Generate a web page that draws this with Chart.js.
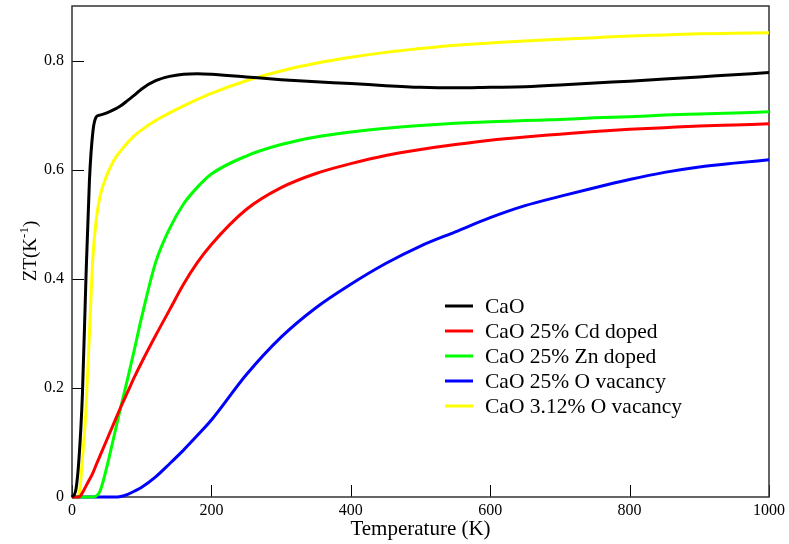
<!DOCTYPE html>
<html>
<head>
<meta charset="utf-8">
<script src="https://cdn.jsdelivr.net/npm/chart.js@4.4.1/dist/chart.umd.min.js"></script>
<style>
  html, body { margin: 0; padding: 0; background: #fff; }
  canvas { display: block; }
</style>
</head>
<body>
<canvas id="zt" width="789" height="544"></canvas>
<script>
const temps = [0, 5, 10, 15, 20, 25, 30, 35, 40, 50, 60, 70, 80, 90, 100, 120, 140, 160, 180, 200,
  250, 300, 350, 400, 450, 500, 550, 600, 650, 700, 750, 800, 850, 900, 950, 1000];

const cao = [0, 0.01, 0.07, 0.19, 0.40, 0.58, 0.67, 0.697, 0.700, 0.704, 0.710, 0.717, 0.727, 0.737, 0.748,
  0.763, 0.771, 0.775, 0.776, 0.775, 0.770, 0.765, 0.761, 0.758, 0.754, 0.751, 0.750, 0.751, 0.752, 0.755,
  0.759, 0.762, 0.766, 0.770, 0.774, 0.778];
const cdDoped = [0, 0, 0, 0.008, 0.02, 0.032, 0.044, 0.06, 0.075, 0.105, 0.135, 0.165, 0.193, 0.221, 0.247,
  0.296, 0.343, 0.39, 0.43, 0.463, 0.527, 0.567, 0.593, 0.611, 0.626, 0.637, 0.646, 0.654, 0.660, 0.665,
  0.670, 0.674, 0.677, 0.680, 0.682, 0.684];
const znDoped = [0, 0, 0, 0, 0, 0, 0, 0.002, 0.01, 0.055, 0.11, 0.165, 0.218, 0.273, 0.33,
  0.43, 0.492, 0.537, 0.568, 0.592, 0.625, 0.646, 0.660, 0.669, 0.676, 0.681, 0.685, 0.688, 0.690, 0.692,
  0.695, 0.697, 0.700, 0.702, 0.704, 0.706];
const oVac25 = [0, 0, 0, 0, 0, 0, 0, 0, 0, 0, 0, 0.001, 0.005, 0.011, 0.018,
  0.037, 0.061, 0.086, 0.113, 0.141, 0.224, 0.293, 0.347, 0.39, 0.428, 0.46, 0.486, 0.512, 0.534, 0.551,
  0.567, 0.582, 0.595, 0.605, 0.612, 0.618];
const oVac312 = [0, 0, 0.005, 0.07, 0.16, 0.30, 0.44, 0.51, 0.55, 0.59, 0.617, 0.635, 0.65, 0.663, 0.673,
  0.690, 0.704, 0.717, 0.729, 0.740, 0.763, 0.781, 0.795, 0.806, 0.815, 0.822, 0.828, 0.832, 0.836, 0.839,
  0.842, 0.845, 0.847, 0.849, 0.850, 0.851];

const labels = ['CaO', 'CaO 25% Cd doped', 'CaO 25% Zn doped', 'CaO 25% O vacancy', 'CaO 3.12% O vacancy'];
const colors = ['#000000', '#ff0000', '#00ff00', '#0000ff', '#ffff00'];
const series = [cao, cdDoped, znDoped, oVac25, oVac312];

const xTicks = [0, 200, 400, 600, 800, 1000];
const yTicks = [0, 0.2, 0.4, 0.6, 0.8];

const serif = '"Liberation Serif", "Times New Roman", serif';

// frame + inward tick marks, drawn under the curves
const frame = {
  id: 'frame',
  beforeDatasetsDraw(chart) {
    const { ctx, chartArea: a, scales: { x, y } } = chart;
    ctx.save();
    ctx.strokeStyle = '#000';
    ctx.lineWidth = 1;
    ctx.beginPath();
    xTicks.forEach(v => {
      const px = Math.round(x.getPixelForValue(v)) + 0.5;
      ctx.moveTo(px, a.bottom);
      ctx.lineTo(px, a.bottom - 12);
    });
    yTicks.forEach(v => {
      const py = Math.round(y.getPixelForValue(v)) + 0.5;
      ctx.moveTo(a.left, py);
      ctx.lineTo(a.left + 12, py);
    });
    ctx.stroke();
    ctx.strokeStyle = '#333';
    ctx.lineWidth = 1.5;
    ctx.strokeRect(a.left, a.top, a.right - a.left, a.bottom - a.top);
    ctx.restore();
  },
  afterDraw(chart) {
    const { ctx, chartArea: a } = chart;
    ctx.save();
    ctx.fillStyle = '#000';

    // x title
    ctx.font = '21px ' + serif;
    ctx.textAlign = 'center';
    ctx.textBaseline = 'alphabetic';
    ctx.fillText('Temperature (K)', (a.left + a.right) / 2, 535);

    // y title with superscript
    ctx.translate(29, 251);
    ctx.rotate(-Math.PI / 2);
    const big = '19px ' + serif, small = '13px ' + serif;
    ctx.font = big;
    const w1 = ctx.measureText('ZT(K').width;
    const w3 = ctx.measureText(')').width;
    ctx.font = small;
    const w2 = ctx.measureText('-1').width;
    let cx = -(w1 + w2 + w3) / 2;
    ctx.textAlign = 'left';
    ctx.font = big;
    ctx.fillText('ZT(K', cx, 7);
    cx += w1;
    ctx.font = small;
    ctx.fillText('-1', cx, -1);
    cx += w2;
    ctx.font = big;
    ctx.fillText(')', cx, 7);
    ctx.restore();

    // legend
    ctx.save();
    ctx.font = '21.5px ' + serif;
    ctx.textBaseline = 'middle';
    ctx.lineWidth = 3;
    chart.data.datasets.forEach((ds, i) => {
      const yy = 306 + i * 25;
      ctx.strokeStyle = ds.borderColor;
      ctx.beginPath();
      ctx.moveTo(445, yy);
      ctx.lineTo(473, yy);
      ctx.stroke();
      ctx.fillStyle = '#000';
      ctx.fillText(ds.label, 485, yy + 1);
    });
    ctx.restore();
  }
};

new Chart(document.getElementById('zt'), {
  type: 'line',
  data: {
    datasets: series.map((vals, i) => ({
      label: labels[i],
      data: temps.map((t, j) => ({ x: t, y: vals[j] })),
      borderColor: colors[i],
      backgroundColor: colors[i],
      borderWidth: 3,
      pointRadius: 0,
      cubicInterpolationMode: 'monotone',
      clip: false,
    })),
  },
  options: {
    responsive: false,
    animation: false,
    devicePixelRatio: 1,
    layout: { padding: { left: 0, right: 19, top: 6, bottom: 0 } },
    plugins: {
      legend: { display: false },
      tooltip: { enabled: false },
    },
    scales: {
      x: {
        type: 'linear',
        min: 0,
        max: 1000,
        grid: { display: false, drawTicks: false },
        border: { display: false },
        afterBuildTicks: s => { s.ticks = xTicks.map(v => ({ value: v })); },
        afterFit: s => { s.height = 47; },
        ticks: {
          padding: 4,
          maxRotation: 0,
          color: '#000',
          font: { family: serif, size: 16 },
          callback: v => String(v),
        },
      },
      y: {
        type: 'linear',
        min: 0,
        max: 0.9,
        grid: { display: false, drawTicks: false },
        border: { display: false },
        afterBuildTicks: s => { s.ticks = yTicks.map(v => ({ value: v })); },
        afterFit: s => { s.width = 72; s.paddingTop = 0; s.paddingBottom = 0; },
        ticks: {
          padding: 8,
          color: '#000',
          font: { family: serif, size: 16 },
          callback: v => String(v),
        },
      },
    },
  },
  plugins: [frame],
});
</script>
</body>
</html>
